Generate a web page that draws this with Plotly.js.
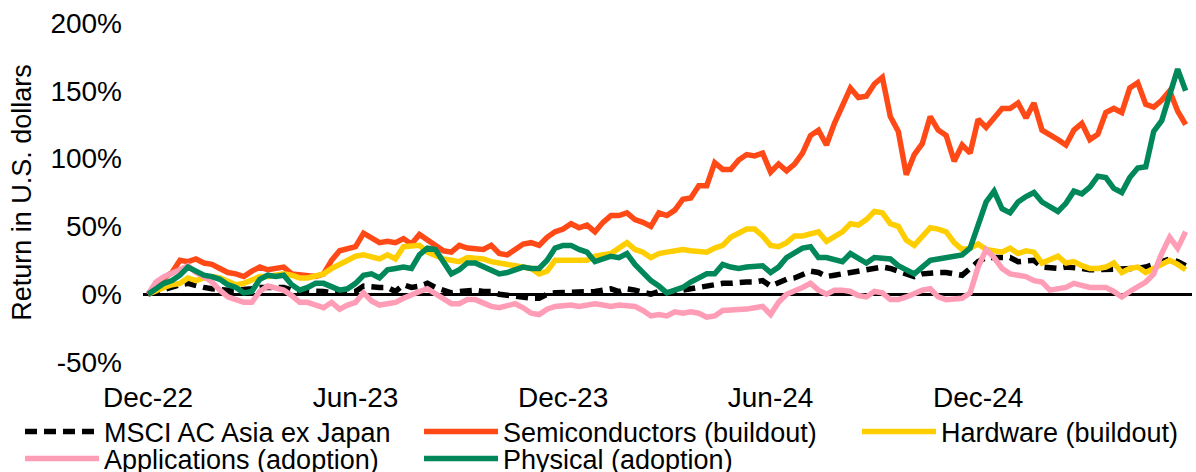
<!DOCTYPE html>
<html>
<head>
<meta charset="utf-8">
<script src="https://cdn.plot.ly/plotly-3.0.1.min.js"></script>
<style>
  html, body { margin: 0; padding: 0; background: #ffffff; }
  #chart { width: 1196px; height: 472px; }
</style>
</head>
<body>
<div id="chart"></div>
<script>
// Weekly observation dates (Fridays)
const dates = [
  '2022-12-30',
  '2023-01-06','2023-01-13','2023-01-20','2023-01-27','2023-02-03','2023-02-10','2023-02-17','2023-02-24',
  '2023-03-03','2023-03-10','2023-03-17','2023-03-24','2023-03-31','2023-04-07','2023-04-14','2023-04-21','2023-04-28',
  '2023-05-05','2023-05-12','2023-05-19','2023-05-26','2023-06-02','2023-06-09','2023-06-16','2023-06-23','2023-06-30',
  '2023-07-07','2023-07-14','2023-07-21','2023-07-28','2023-08-04','2023-08-11','2023-08-18','2023-08-25',
  '2023-09-01','2023-09-08','2023-09-15','2023-09-22','2023-09-29','2023-10-06','2023-10-13','2023-10-20','2023-10-27',
  '2023-11-03','2023-11-10','2023-11-17','2023-11-24','2023-12-01','2023-12-08','2023-12-15','2023-12-22','2023-12-29',
  '2024-01-05','2024-01-12','2024-01-19','2024-01-26','2024-02-02','2024-02-09','2024-02-16','2024-02-23',
  '2024-03-01','2024-03-08','2024-03-15','2024-03-22','2024-03-29','2024-04-05','2024-04-12','2024-04-19','2024-04-26',
  '2024-05-03','2024-05-10','2024-05-17','2024-05-24','2024-05-31','2024-06-07','2024-06-14','2024-06-21','2024-06-28',
  '2024-07-05','2024-07-12','2024-07-19','2024-07-26','2024-08-02','2024-08-09','2024-08-16','2024-08-23','2024-08-30',
  '2024-09-06','2024-09-13','2024-09-20','2024-09-27','2024-10-04','2024-10-11','2024-10-18','2024-10-25',
  '2024-11-01','2024-11-08','2024-11-15','2024-11-22','2024-11-29','2024-12-06','2024-12-13','2024-12-20','2024-12-27',
  '2025-01-03','2025-01-10','2025-01-17','2025-01-24','2025-01-31','2025-02-07','2025-02-14','2025-02-21','2025-02-28',
  '2025-03-07','2025-03-14','2025-03-21','2025-03-28','2025-04-04','2025-04-11','2025-04-18','2025-04-25',
  '2025-05-02','2025-05-09','2025-05-16','2025-05-23','2025-05-30','2025-06-06','2025-06-13','2025-06-20','2025-06-27'
];

// Cumulative returns, %
const msci = [
  0,2,4,5,7,8,6,5,4,3,
  3,3,3,4,5,5,5,5,3,3,
  2,2,2,1,1,1,2,6,5,5,
  5,2,7,5,6,8,5,3,1,2,
  3,3,2,2,0,-1,-2,-2,-3,-3,
  0,1,1,1,1,2,2,3,4,2,
  4,3,1,0,2,1,2,3,5,5,
  6,7,8,8,9,9,9,10,6,9,
  11,12,15,17,16,13,14,15,16,17,
  18,19,20,19,17,15,13,15,16,16,
  16,15,14,19,24,27,27,26,27,24,
  24,25,20,19,19,20,20,19,18,18,
  19,18,18,19,19,20,22,23,26,24,
  21
];
const semiconductors = [
  0,6,12,16,25,24,26,23,22,19,
  16,15,13,17,20,18,19,20,15,14,
  14,13,15,25,32,33,35,45,41,38,
  39,38,41,37,44,40,37,32,31,36,
  34,34,33,36,30,29,33,37,38,36,
  42,46,48,52,49,51,46,53,58,58,
  60,55,53,50,60,58,62,70,71,80,
  80,97,92,92,99,103,102,104,90,96,
  91,96,104,117,121,110,126,140,152,145,
  146,155,160,131,120,88,103,111,131,121,
  117,98,110,104,129,123,130,137,137,141,
  130,141,121,118,114,110,121,126,114,118,
  134,137,134,152,156,140,138,143,150,135,
  125
];
const hardware = [
  0,3,5,7,8,12,10,12,13,12,
  10,7,8,11,13,13,14,15,14,12,
  12,13,15,19,22,25,28,29,27,26,
  29,26,35,35,36,31,28,26,25,24,
  27,27,26,24,23,21,21,20,19,15,
  17,25,25,26,26,25,28,29,30,34,
  38,33,31,27,30,31,32,33,32,31,
  31,34,36,42,45,48,48,43,36,35,
  38,43,43,44,46,39,42,46,52,51,
  55,61,60,52,50,40,36,43,49,48,
  46,38,33,34,37,33,32,31,34,30,
  32,31,23,25,28,23,24,21,19,19,
  20,23,16,19,20,16,19,21,25,22,
  18
];
const applications = [
  0,9,13,15,18,21,16,13,9,3,
  -2,-4,-6,-6,2,6,5,3,-1,-6,
  -6,-8,-10,-6,-11,-8,-6,1,-5,-8,
  -7,-6,-3,0,2,4,0,-3,-7,-7,
  -4,-4,-7,-9,-10,-9,-7,-10,-14,-15,
  -11,-9,-8,-8,-9,-8,-7,-8,-9,-8,
  -8,-9,-12,-16,-15,-16,-13,-14,-13,-14,
  -17,-16,-12,-12,-12,-11,-10,-9,-15,-6,
  0,2,5,8,3,0,3,3,2,-1,
  -2,2,1,-4,-4,-2,1,3,4,-2,
  -4,-3,-3,1,20,33,27,19,15,14,
  13,10,9,3,4,5,8,6,5,5,
  5,2,-2,2,5,9,15,30,42,34,
  46
];
const physical = [
  0,4,8,10,14,20,17,14,13,11,
  7,5,1,2,11,14,13,14,7,3,
  5,8,8,6,3,4,8,14,15,12,
  18,19,20,19,29,34,33,24,15,18,
  23,23,20,18,15,16,18,20,19,19,
  25,34,36,36,33,31,24,26,28,27,
  30,22,16,10,6,1,3,5,9,12,
  15,15,22,20,19,20,20,21,16,20,
  27,31,34,35,27,27,25,24,30,26,
  23,27,26,26,21,18,15,20,25,26,
  27,27,29,34,52,68,76,63,60,68,
  72,75,68,65,61,67,76,74,79,87,
  86,78,75,86,93,94,120,128,146,166,
  150
];

const seriesNames = ['MSCI AC Asia ex Japan', 'Semiconductors (buildout)', 'Hardware (buildout)', 'Applications (adoption)', 'Physical (adoption)'];
const seriesColors = ['#000000', '#FF4A17', '#FFCE00', '#FF9CB6', '#00875A'];
const xTickDates = ['2022-12-30', '2023-06-30', '2023-12-29', '2024-06-28', '2024-12-27'];
const xTickLabels = ['Dec-22', 'Jun-23', 'Dec-23', 'Jun-24', 'Dec-24'];
const yTickValues = [-50, 0, 50, 100, 150, 200];
const yTickLabels = ['-50%', '0%', '50%', '100%', '150%', '200%'];

const FONT = 'Liberation Sans, Arial, sans-serif';
const seriesData = [msci, semiconductors, hardware, applications, physical];
const legendIds = ['legend', 'legend2', 'legend3', 'legend4', 'legend5'];

const traces = seriesData.map((vals, i) => ({
  type: 'scatter',
  mode: 'lines',
  x: dates,
  y: vals,
  name: seriesNames[i],
  legend: legendIds[i],
  line: i === 0
    ? { color: seriesColors[i], width: 5.5, dash: '12px,7px' }
    : { color: seriesColors[i], width: 5.5 },
  hoverinfo: 'skip'
}));

function legendAt(px, py) {
  return {
    xref: 'container', yref: 'container',
    x: px / 1196, y: 1 - py / 472,
    xanchor: 'left', yanchor: 'middle',
    orientation: 'h',
    itemwidth: 74,
    bgcolor: 'rgba(0,0,0,0)',
    borderwidth: 0,
    font: { family: FONT, size: 27, color: '#000000' },
    itemclick: false, itemdoubleclick: false
  };
}

const layout = {
  width: 1196, height: 472,
  margin: { l: 143, r: 4, t: 23, b: 110 },
  paper_bgcolor: '#ffffff', plot_bgcolor: '#ffffff',
  font: { family: FONT, size: 27, color: '#000000' },
  showlegend: true,
  xaxis: {
    type: 'date',
    range: ['2022-12-25 14:00', '2025-07-02 14:00'],
    tickmode: 'array', tickvals: xTickDates, ticktext: xTickLabels,
    showgrid: false, zeroline: false, showline: false, ticks: '',
    tickangle: 0,
    tickfont: { family: FONT, size: 28, color: '#000000' },
    ticklabelstandoff: 16,
    fixedrange: true
  },
  yaxis: {
    range: [-50, 200],
    tickmode: 'array', tickvals: yTickValues, ticktext: yTickLabels,
    showgrid: false, showline: false, ticks: '',
    zeroline: true, zerolinecolor: '#000000', zerolinewidth: 3,
    tickfont: { family: FONT, size: 28, color: '#000000' },
    ticklabelstandoff: 20,
    title: { text: 'Return in U.S. dollars', font: { family: FONT, size: 27, color: '#000000' }, standoff: 10 },
    fixedrange: true
  },
  legend: legendAt(20, 432),
  legend2: legendAt(419, 432),
  legend3: legendAt(857, 432),
  legend4: legendAt(20, 459),
  legend5: legendAt(419, 459)
};

Plotly.newPlot('chart', traces, layout, { staticPlot: true, displayModeBar: false });
</script>
</body>
</html>
